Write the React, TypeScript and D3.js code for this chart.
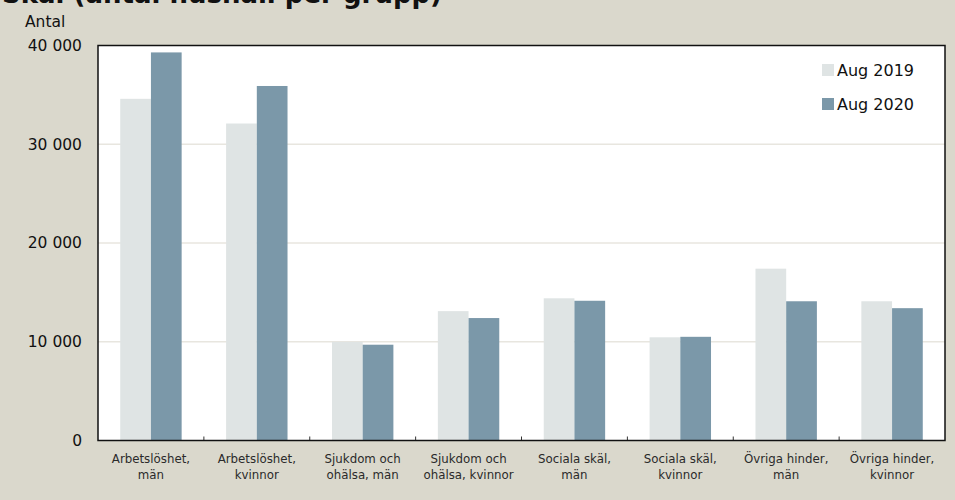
import * as React from 'react';
import * as d3 from 'd3';

const categories = [
  ['Arbetslöshet,', 'män'],
  ['Arbetslöshet,', 'kvinnor'],
  ['Sjukdom och', 'ohälsa, män'],
  ['Sjukdom och', 'ohälsa, kvinnor'],
  ['Sociala skäl,', 'män'],
  ['Sociala skäl,', 'kvinnor'],
  ['Övriga hinder,', 'män'],
  ['Övriga hinder,', 'kvinnor'],
];
const aug2019 = [34600, 32100, 10000, 13100, 14400, 10450, 17400, 14100];
const aug2020 = [39300, 35900, 9700, 12400, 14150, 10500, 14100, 13400];
const seriesNames = ['Aug 2019', 'Aug 2020'];
const yTicks = [0, 10000, 20000, 30000, 40000];

const width = 955;
const height = 500;
const margin = { top: 45.5, right: 10, bottom: 59.5, left: 98 };
const colors = ['#dfe4e4', '#7b98a9'];
const font = '"DejaVu Sans", sans-serif';

export default function App() {
  const svgRef = React.useRef<SVGSVGElement>(null);

  React.useEffect(() => {
    if (!svgRef.current) return;
    const svg = d3.select(svgRef.current);
    svg.selectAll('*').remove();

    const innerW = width - margin.left - margin.right;
    const innerH = height - margin.top - margin.bottom;

    svg.append('rect').attr('width', width).attr('height', height).attr('fill', '#dad8cc');

    // title, cut off at the top of the picture like in the source
    svg
      .append('text')
      .attr('x', 2)
      .attr('y', 3)
      .attr('font-family', font)
      .attr('font-weight', 'bold')
      .attr('font-size', 26)
      .attr('fill', '#111')
      .text('Skäl (antal hushåll per grupp)');

    const g = svg.append('g').attr('transform', `translate(${margin.left},${margin.top})`);

    g.append('rect').attr('width', innerW).attr('height', innerH).attr('fill', '#ffffff');

    const x = d3
      .scaleBand<number>()
      .domain(d3.range(categories.length))
      .range([0, innerW])
      .paddingInner(0)
      .paddingOuter(0);
    const barW = x.bandwidth() * 0.29;

    const y = d3.scaleLinear().domain([0, 40000]).range([innerH, 0]);

    // grid lines
    g.selectAll('.grid')
      .data(yTicks.slice(1, -1))
      .enter()
      .append('line')
      .attr('x1', 0)
      .attr('x2', innerW)
      .attr('y1', (d) => y(d))
      .attr('y2', (d) => y(d))
      .attr('stroke', '#e8e6df')
      .attr('stroke-width', 1.5);

    // bars
    [aug2019, aug2020].forEach((values, s) => {
      g.append('g')
        .selectAll('rect')
        .data(values)
        .enter()
        .append('rect')
        .attr('x', (_, i) => x(i)! + x.bandwidth() / 2 - barW + s * barW)
        .attr('y', (d) => y(d))
        .attr('width', barW)
        .attr('height', (d) => innerH - y(d))
        .attr('fill', colors[s]);
    });

    // y tick labels
    g.selectAll('.ylab')
      .data(yTicks)
      .enter()
      .append('text')
      .attr('x', -16)
      .attr('y', (d) => y(d))
      .attr('dy', '0.35em')
      .attr('text-anchor', 'end')
      .attr('font-family', font)
      .attr('font-size', 15.5)
      .attr('fill', '#111')
      .text((d) => d3.format(',')(d).replace(/,/g, ' '));

    svg
      .append('text')
      .attr('x', 25)
      .attr('y', 27)
      .attr('font-family', font)
      .attr('font-size', 15.5)
      .attr('fill', '#111')
      .text('Antal');

    // category tick marks on the x axis
    g.selectAll('.xtick')
      .data(d3.range(1, categories.length))
      .enter()
      .append('line')
      .attr('x1', (i) => x(i)!)
      .attr('x2', (i) => x(i)!)
      .attr('y1', innerH)
      .attr('y2', innerH - 4)
      .attr('stroke', '#333');

    // frame
    g.append('rect')
      .attr('width', innerW)
      .attr('height', innerH)
      .attr('fill', 'none')
      .attr('stroke', '#111')
      .attr('stroke-width', 1.5);

    // x labels
    const xl = g
      .selectAll('.xlab')
      .data(categories)
      .enter()
      .append('text')
      .attr('text-anchor', 'middle')
      .attr('font-family', font)
      .attr('font-size', 11.8)
      .attr('fill', '#2a2a2a');
    xl.append('tspan')
      .attr('x', (_, i) => x(i)! + x.bandwidth() / 2)
      .attr('y', innerH + 22)
      .text((d) => d[0]);
    xl.append('tspan')
      .attr('x', (_, i) => x(i)! + x.bandwidth() / 2)
      .attr('y', innerH + 38.5)
      .text((d) => d[1]);

    // legend
    const legend = svg.append('g').attr('transform', 'translate(822,62)');
    seriesNames.forEach((name, i) => {
      legend
        .append('rect')
        .attr('x', 0)
        .attr('y', i * 34 + 2)
        .attr('width', 12)
        .attr('height', 12)
        .attr('fill', colors[i]);
      legend
        .append('text')
        .attr('x', 15)
        .attr('y', i * 34 + 14)
        .attr('font-family', font)
        .attr('font-size', 16)
        .attr('fill', '#111')
        .text(name);
    });
  }, []);

  return (
    <svg
      ref={svgRef}
      width={width}
      height={height}
      style={{ position: 'absolute', left: 0, top: 0, display: 'block' }}
    />
  );
}
